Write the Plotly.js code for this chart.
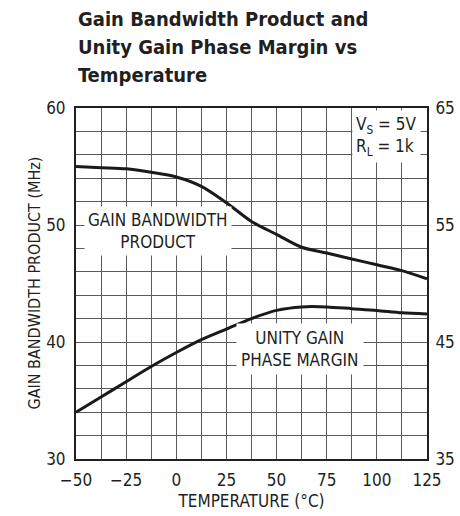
<!DOCTYPE html>
<html>
<head>
<meta charset="utf-8">
<script src="https://cdn.plot.ly/plotly-3.0.1.min.js"></script>
<style>html,body{margin:0;padding:0;background:#fff}#chart{width:460px;height:516px}</style>
</head>
<body>
<div id="chart"></div>
<script>
// Data
const temperature = [-50, -37.5, -25, -12.5, 0, 12.5, 25, 37.5, 50, 62.5, 75, 87.5, 100, 112.5, 125];
const gainBandwidth = [55.0, 54.9, 54.8, 54.5, 54.1, 53.3, 51.9, 50.3, 49.2, 48.1, 47.6, 47.1, 46.6, 46.1, 45.4];
const phaseMargin = [39.0, 40.3, 41.6, 42.9, 44.1, 45.2, 46.1, 47.0, 47.7, 48.0, 48.0, 47.85, 47.7, 47.5, 47.4];
const titleLines = ["Gain Bandwidth Product and", "Unity Gain Phase Margin vs", "Temperature"];
const xTicks = [-50, -25, 0, 25, 50, 75, 100, 125];
const yLeftTicks = [30, 40, 50, 60];
const yRightTicks = [35, 45, 55, 65];

const FONT = '"DejaVu Sans Condensed", "Liberation Sans Narrow", "Arial Narrow", sans-serif';
const GRID = '#5a5a5a';
const INK = '#231f20';

const traces = [
  {x: temperature, y: gainBandwidth, type: 'scatter', mode: 'lines', name: 'GBW',
   line: {color: '#1a1a1a', width: 3, shape: 'spline', smoothing: 0.8}, yaxis: 'y'},
  {x: temperature, y: phaseMargin, type: 'scatter', mode: 'lines', name: 'Phase margin',
   line: {color: '#1a1a1a', width: 3, shape: 'spline', smoothing: 0.8}, yaxis: 'y2'}
];

const titleY = [19, 47, 75];
const annotations = titleLines.map((t, i) => ({
  text: t, xref: 'paper', yref: 'paper', x: 0, xanchor: 'left',
  y: (459 - titleY[i]) / 351, yanchor: 'middle', showarrow: false,
  font: {family: FONT, size: 20, color: INK, weight: 'bold'}
}));
annotations.push(
  {text: 'GAIN BANDWIDTH PRODUCT (MHz)', textangle: -90, xref: 'paper', yref: 'paper',
   x: (34 - 76) / 351, xanchor: 'center', y: 0.5, yanchor: 'middle', showarrow: false,
   font: {family: FONT, size: 16, color: INK}},
  {text: 'GAIN BANDWIDTH<br>PRODUCT', x: -8.9, y: 49.5, xref: 'x', yref: 'y', showarrow: false,
   bgcolor: '#fff', borderpad: 3, align: 'center', font: {family: FONT, size: 17, color: INK}},
  {text: 'UNITY GAIN<br>PHASE MARGIN', x: 61.7, y: 39.4, xref: 'x', yref: 'y', showarrow: false,
   bgcolor: '#fff', borderpad: 4, align: 'center', font: {family: FONT, size: 17, color: INK}},
  {text: 'V<sub>S</sub> = 5V<br>R<sub>L</sub> = 1k', x: 87.6, xanchor: 'left', y: 57.6, xref: 'x', yref: 'y',
   showarrow: false, bgcolor: '#fff', borderpad: 3, align: 'left', font: {family: FONT, size: 17, color: INK}}
);

const layout = {
  width: 460, height: 516,
  margin: {l: 76, r: 33, t: 108, b: 57},
  paper_bgcolor: '#fff', plot_bgcolor: '#fff',
  showlegend: false,
  font: {family: FONT, size: 17, color: INK},
  xaxis: {
    range: [-50, 125], tickvals: xTicks, ticktext: xTicks.map(v => v < 0 ? '\u2212' + Math.abs(v) : String(v)),
    showgrid: true, gridcolor: GRID, gridwidth: 1,
    minor: {dtick: 12.5, tick0: -50, showgrid: true, gridcolor: GRID, gridwidth: 1},
    ticks: 'outside', ticklen: 5, tickcolor: 'rgba(0,0,0,0)',
    showline: true, linecolor: INK, linewidth: 2, mirror: true, zeroline: false,
    title: {text: 'TEMPERATURE (°C)', font: {family: FONT, size: 17}, standoff: 6},
    tickfont: {family: FONT, size: 17}
  },
  yaxis: {
    range: [30, 60], tickvals: yLeftTicks,
    showgrid: true, gridcolor: GRID, gridwidth: 1,
    minor: {dtick: 2, tick0: 30, showgrid: true, gridcolor: GRID, gridwidth: 1},
    ticks: 'outside', ticklen: 5, tickcolor: 'rgba(0,0,0,0)',
    showline: true, linecolor: INK, linewidth: 2, mirror: true, zeroline: false,
    tickfont: {family: FONT, size: 17}
  },
  yaxis2: {
    range: [35, 65], tickvals: yRightTicks, overlaying: 'y', side: 'right',
    showgrid: false, zeroline: false, ticks: 'outside', ticklen: 4, tickcolor: 'rgba(0,0,0,0)',
    tickfont: {family: FONT, size: 17}
  },
  annotations: annotations
};

Plotly.newPlot('chart', traces, layout, {displayModeBar: false, staticPlot: true});
</script>
</body>
</html>
